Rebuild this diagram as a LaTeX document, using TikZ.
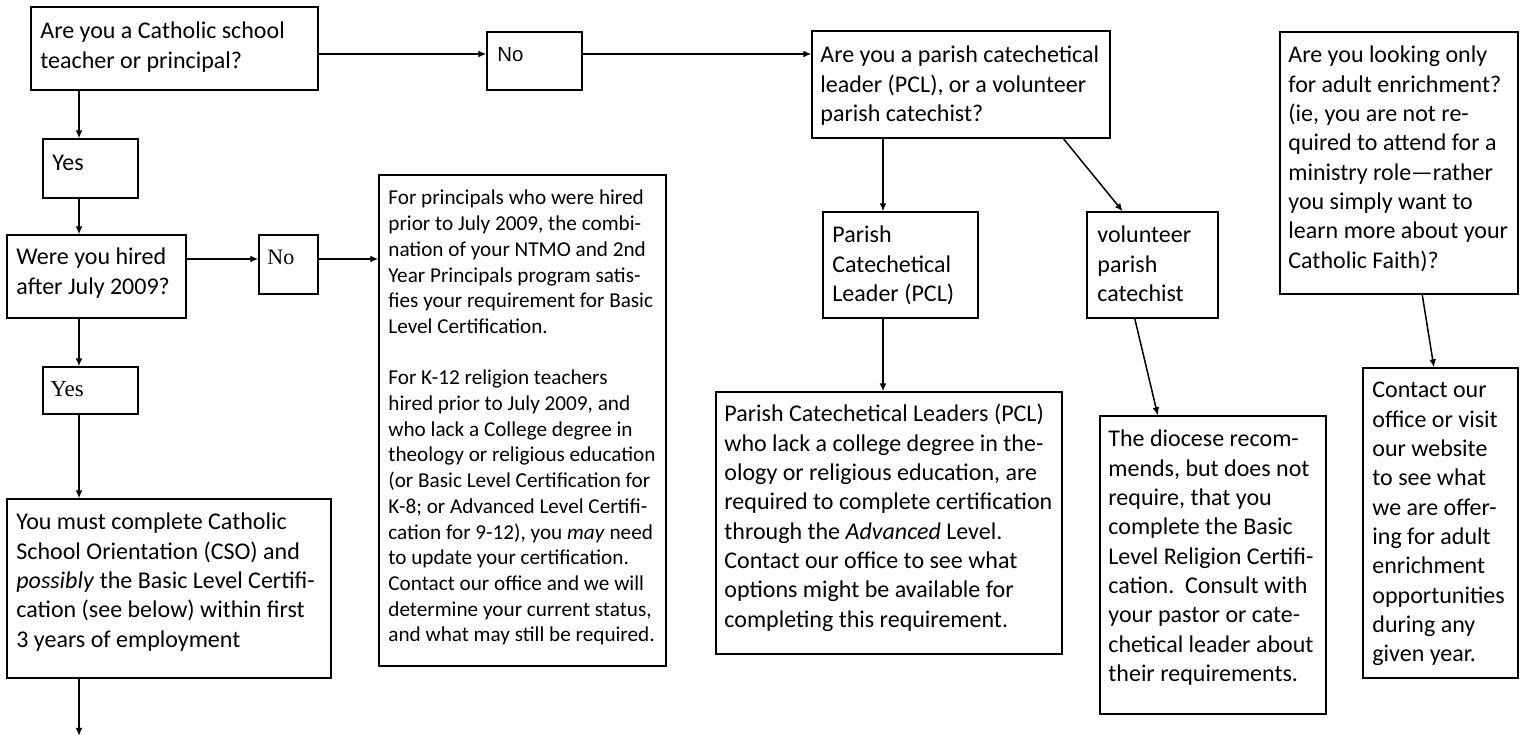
\documentclass[tikz,border=0pt]{standalone}
\usepackage{fontspec}
\setmainfont{Carlito}
\newfontfamily\arialf{Liberation Sans}
\newfontfamily\timesf{Liberation Serif}
\usetikzlibrary{arrows.meta,fit,calc}
\newcommand\mainsz{\fontsize{12}{14.65}\selectfont}
\newcommand\smallsz{\fontsize{10.6}{12.85}\selectfont}
\newcommand\tbx[2]{\parbox[t]{300pt}{#1\raggedright #2}}
\tikzset{
  box/.style={draw, line width=0.65pt, inner sep=0pt},
  arr/.style={-{Latex[length=4pt,width=3.4pt]}, line width=0.75pt},
  lbl/.style={anchor=base west, inner sep=0pt}
}
\begin{document}
\begin{tikzpicture}[x=0.5pt,y=-0.5pt]
\useasboundingbox (0,0) rectangle (1528,737);
% guide coordinates
\coordinate (colx) at (79,0);
\coordinate (colp) at (883,0);
\coordinate (row1) at (0,54);
\coordinate (row2) at (0,259);
\coordinate (endA) at (79,736);
% boxes
\node[box, fit={(31,7) (318,90)}] (A) {};
\node[box, fit={(487,32) (582,90)}] (No1) {};
\node[box, fit={(812,31) (1110,138)}] (PQ) {};
\node[box, fit={(43,139) (138,198)}] (Yes1) {};
\node[box, fit={(7,235) (186,318)}] (Hired) {};
\node[box, fit={(259,235) (318,294)}] (No2) {};
\node[box, fit={(43,367) (138,414)}] (Yes2) {};
\node[box, fit={(7,499) (331,678)}] (CSO) {};
\node[box, fit={(379,175) (666,666)}] (Prin) {};
\node[box, fit={(823,212) (978,318)}] (PCL) {};
\node[box, fit={(1087,212) (1218,318)}] (Vol) {};
\node[box, fit={(716,392) (1062,654)}] (PCLT) {};
\node[box, fit={(1100,416) (1326,714)}] (Dio) {};
\node[box, fit={(1280,32) (1518,294)}] (Adult) {};
\node[box, fit={(1363,368) (1518,678)}] (Contact) {};
% texts
\node[lbl] (At) at (40,39) {\tbx{\mainsz}{Are you a Catholic school\\teacher or principal?}};
\node[lbl] (No1t) at (497,62) {\arialf\fontsize{10.2}{12}\selectfont No};
\node[lbl] (PQt) at (820,63) {\tbx{\mainsz}{Are you a parish catechetical\\leader (PCL), or a volunteer\\parish catechist?}};
\node[lbl] (Yes1t) at (52,171) {\mainsz Yes};
\node[lbl] (Hiredt) at (16,265) {\tbx{\mainsz}{Were you hired\\after July 2009?}};
\node[lbl] (No2t) at (267,265) {\timesf\fontsize{11}{13}\selectfont No};
\node[lbl] (Yes2t) at (50,397) {\timesf\fontsize{11.5}{13}\selectfont Yes};
\node[lbl] (CSOt) at (16,530) {\tbx{\mainsz}{You must complete Catholic\\School Orientation (CSO) and\\\emph{possibly} the Basic Level Certifi-\\cation (see below) within first\\3 years of employment}};
\node[lbl] (Print) at (388,205) {\tbx{\smallsz}{For principals who were hired\\prior to July 2009, the combi-\\nation of your NTMO and 2nd\\Year Principals program satis-\\fies your requirement for Basic\\Level Certification.\\\mbox{}\\For K-12 religion teachers\\hired prior to July 2009, and\\who lack a College degree in\\theology or religious education\\(or Basic Level Certification for\\K-8; or Advanced Level Certifi-\\cation for 9-12), you \emph{may} need\\to update your certification.\\Contact our office and we will\\determine your current status,\\and what may still be required.}};
\node[lbl] (PCLt) at (832,243) {\tbx{\mainsz}{Parish\\Catechetical\\Leader (PCL)}};
\node[lbl] (Volt) at (1097,243) {\tbx{\mainsz}{volunteer\\parish\\catechist}};
\node[lbl] (PCLTt) at (724,422) {\tbx{\mainsz}{Parish Catechetical Leaders (PCL)\\who lack a college degree in the-\\ology or religious education, are\\required to complete certification\\through the \emph{Advanced} Level.\\Contact our office to see what\\options might be available for\\completing this requirement.}};
\node[lbl] (Diot) at (1108,447) {\tbx{\mainsz}{The diocese recom-\\mends, but does not\\require, that you\\complete the Basic\\Level Religion Certifi-\\cation.\ \ Consult with\\your pastor or cate-\\chetical leader about\\their requirements.}};
\node[lbl] (Adultt) at (1288,63) {\tbx{\mainsz}{Are you looking only\\for adult enrichment?\\(ie, you are not re-\\quired to attend for a\\ministry role---rather\\you simply want to\\learn more about your\\Catholic Faith)?}};
\node[lbl] (Contactt) at (1372,398) {\tbx{\mainsz}{Contact our\\office or visit\\our website\\to see what\\we are offer-\\ing for adult\\enrichment\\opportunities\\during any\\given year.}};
% connectors
\draw[arr] (A.east |- row1) -- (No1.west |- row1);
\draw[arr] (No1.east |- row1) -- (PQ.west |- row1);
\draw[arr] (A.south -| colx) -- (Yes1.north -| colx);
\draw[arr] (Yes1.south -| colx) -- (Hired.north -| colx);
\draw[arr] (Hired.east |- row2) -- (No2.west |- row2);
\draw[arr] (No2.east |- row2) -- (Prin.west |- row2);
\draw[arr] (Hired.south -| colx) -- (Yes2.north -| colx);
\draw[arr] (Yes2.south -| colx) -- (CSO.north -| colx);
\draw[arr] (CSO.south -| colx) -- (endA);
\draw[arr] (PQ.south -| colp) -- (PCL.north -| colp);
\draw[arr] ($(PQ.south west)!0.842!(PQ.south east)$) -- ($(Vol.north west)!0.275!(Vol.north east)$);
\draw[arr] (PCL.south -| colp) -- (PCLT.north -| colp);
\draw[arr] ($(Vol.south west)!0.366!(Vol.south east)$) -- ($(Dio.north west)!0.257!(Dio.north east)$);
\draw[arr] ($(Adult.south west)!0.597!(Adult.south east)$) -- ($(Contact.north west)!0.458!(Contact.north east)$);
\end{tikzpicture}
\end{document}
